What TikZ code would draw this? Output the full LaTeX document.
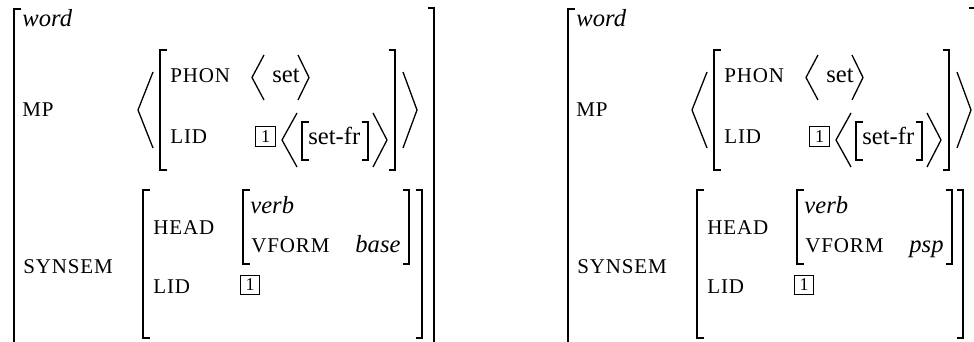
\documentclass[tikz,border=0pt]{standalone}
\usepackage{fontspec}
\setmainfont{Liberation Serif}
\newfontfamily\featfont[LetterSpace=4]{Liberation Serif}
\usepackage{tikz}
\newcommand{\lbr}[3]{\draw[brk] ({#1+6.5},#2) -| (#1,#3) -- ++(6.5,0);}
\newcommand{\rbr}[3]{\draw[brk] ({#1-6.5},#2) -| (#1,#3) -- ++(-6.5,0);}
\newcommand{\angbr}[4]{\draw[ang] (#2,#3) -- (#1,{(#3+#4)/2}) -- (#2,#4);}

\begin{document}
\begin{tikzpicture}[x=0.5pt,y=-0.5pt,
		brk/.style={line width=0.85pt},
		ang/.style={line width=0.65pt},
		val/.style={anchor=base west,inner sep=0pt,font=\fontsize{12.3}{14}\selectfont},
		feat/.style={anchor=base west,inner sep=0pt,font=\featfont\fontsize{10.5}{12}\selectfont},
		tag/.style={draw,line width=0.5pt,minimum size=9.8pt,inner sep=0pt,font=\fontsize{9}{9}\selectfont}]
	\useasboundingbox (0,0) rectangle (974,342);
	\clip (0,0) rectangle (974,342);
	\foreach \dx/\vf/\hx/\sx/\ox/\k in {0/base/409/422/434/l,554/psp/398/409/421/r}{
		\begin{scope}[shift={(\dx,0)}]
			\node[val] (word-\k) at (22,27) {\textit{word}};
			\node[feat] (mp-\k) at (22,117) {MP};
			\node[feat] (synsem-\k) at (23,273) {SYNSEM};
			\node[feat] (phon-\k) at (170,83) {PHON};
			\node[val] (set-\k) at (272,83) {set};
			\node[feat] (lid-\k) at (170,143) {LID};
			\node[tag] (tag-\k) at (265.5,136.5) {1};
			\node[val] (setfr-\k) at (308,145) {set-fr};
			\node[feat] (head-\k) at (153,234) {HEAD};
			\node[val] (verb-\k) at (250,213) {\textit{verb}};
			\node[feat] (vform-\k) at (251,252) {VFORM};
			\node[val] (vf-\k) at (355,252) {\textit{\vf}};
			\node[feat] (lidb-\k) at (153,293) {LID};
			\node[tag] (tagb-\k) at (250,285) {1};
			\lbr{14}{9}{352} \rbr{\ox}{8}{352}
			\lbr{160}{50}{170} \rbr{395}{50}{170}
			\angbr{138}{153}{72}{148} \angbr{417}{403}{72}{148}
			\angbr{252}{264}{55}{100} \angbr{309}{298}{55}{100}
			\angbr{282}{297}{113}{167} \angbr{387}{373}{113}{167}
			\lbr{302}{122}{160} \rbr{368}{122}{160}
			\lbr{143}{190}{338} \rbr{\sx}{190}{338}
			\lbr{243}{190}{264} \rbr{\hx}{190}{264}
		\end{scope}
	}
\end{tikzpicture}
\end{document}
